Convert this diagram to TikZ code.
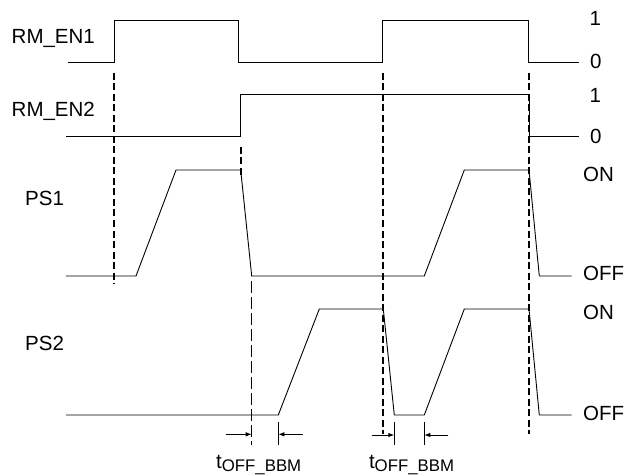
\documentclass[tikz,border=0pt]{standalone}
\usepackage{fontspec}
\setmainfont{Liberation Sans}
\usetikzlibrary{arrows.meta}
\begin{document}
\begin{tikzpicture}[x=1pt,y=-1pt,
  sig/.style={line width=0.9pt, line join=miter},
  thickdash/.style={line width=1.8pt, dash pattern=on 7pt off 3.5pt},
  thindash/.style={line width=0.9pt, dash pattern=on 12pt off 4pt},
  lbl/.style={font=\fontsize{20.5}{24}\selectfont, inner sep=0pt, anchor=base west},
  tickln/.style={line width=0.9pt},
  dimarrow/.style={line width=0.9pt, -{Latex[length=6pt,width=4.5pt]}}
]
\useasboundingbox (0,0) rectangle (627,476);

% signal names
\node[lbl] (nEN1) at (11.5,43.5) {RM\_EN1};
\node[lbl] (nEN2) at (11.5,116.7) {RM\_EN2};
\node[lbl] (nPS1) at (25,206) {PS1};
\node[lbl] (nPS2) at (25,350.5) {PS2};

% level labels
\node[lbl] (l1a) at (589.5,25.6) {1};
\node[lbl] (l0a) at (589.8,69) {0};
\node[lbl] (l1b) at (589.5,102.3) {1};
\node[lbl] (l0b) at (589.8,144) {0};
\node[lbl] (onA) at (583,181.5) {ON};
\node[lbl] (offA) at (583,280.8) {OFF};
\node[lbl] (onB) at (583,319) {ON};
\node[lbl] (offB) at (583,420.8) {OFF};

% waveforms
\draw[sig] (68,62) -- (114.3,62) -- (114.3,20) -- (238.3,20) -- (238.3,62) -- (382.3,62) -- (382.3,20) -- (528.7,20) -- (528.7,62) -- (579,62);
\draw[sig] (66,136.7) -- (240.7,136.7) -- (240.7,94.7) -- (529.5,94.7) -- (529.5,136.7) -- (579,136.7);
\draw[sig] (66,276) -- (136,276) -- (176,170) -- (240.7,170) -- (251.7,276) -- (424.3,276) -- (464.3,170) -- (529,170) -- (539.3,276) -- (571.7,276);
\draw[sig] (66,415) -- (278.3,415) -- (319.3,309) -- (383.3,309) -- (394.3,415) -- (424.3,415) -- (464.3,309) -- (529,309) -- (539.3,415) -- (571.7,415);

% vertical dashed markers
\draw[thickdash] (114.3,73) -- (114.3,284);
\draw[thickdash] (240.7,147) -- (240.7,175);
\draw[thindash] (251.7,281) -- (251.7,445);
\draw[thickdash] (383.3,73) -- (383.3,434);
\draw[thickdash] (529,73) -- (529,434);

% tOFF_BBM dimension ticks
\draw[tickln] (278.3,421.5) -- (278.3,445);
\draw[tickln] (394.3,421.5) -- (394.3,445);
\draw[tickln] (424.3,421.5) -- (424.3,445);

% dimension arrows
\coordinate (a1s) at (225.7,434.3);
\coordinate (a1e) at (251.7,434.3);
\coordinate (a2s) at (302.7,434.3);
\coordinate (a2e) at (278.3,434.3);
\coordinate (b1s) at (371.7,435);
\coordinate (b1e) at (394.3,435);
\coordinate (b2s) at (448.3,435);
\coordinate (b2e) at (424.3,435);
\draw[dimarrow] (a1s) -- (a1e);
\draw[dimarrow] (a2s) -- (a2e);
\draw[dimarrow] (b1s) -- (b1e);
\draw[dimarrow] (b2s) -- (b2e);

\node[lbl] (t1) at (216,468) {t\raisebox{-3.5pt}{\fontsize{16.8}{17}\selectfont OFF\_BBM}};
\node[lbl] (t2) at (368.8,468) {t\raisebox{-3.5pt}{\fontsize{16.8}{17}\selectfont OFF\_BBM}};
\end{tikzpicture}
\end{document}
